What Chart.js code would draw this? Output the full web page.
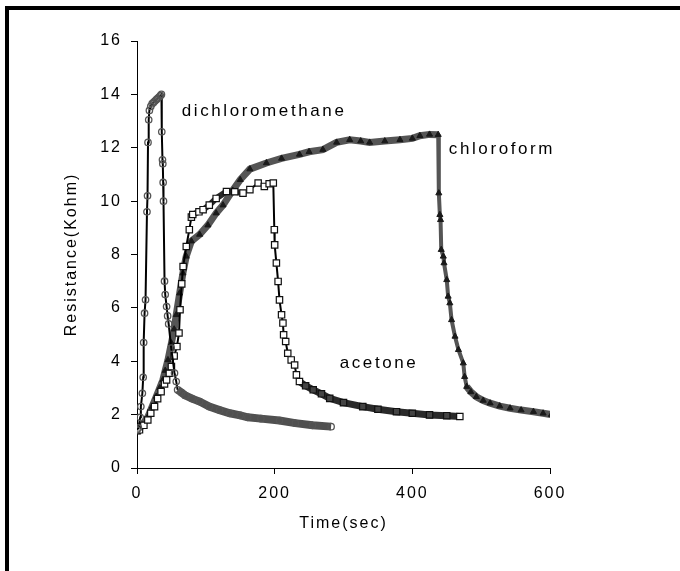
<!DOCTYPE html>
<html lang="en">
<head>
  <meta charset="UTF-8">
  <title>Resistance vs time</title>
  <script src="https://cdn.jsdelivr.net/npm/chart.js"></script>
  <style>
    html, body {
      margin: 0;
      padding: 0;
      background: #fff;
    }
    .wrap {
      width: 680px;
      height: 571px;
    }
  </style>
</head>
<body>
  <div class="wrap"><canvas id="resChart" width="680" height="571"></canvas></div>

  <script>
    // dichloromethane
    const dcmTime = [0, 2, 4.7, 5.6, 7.8, 9, 9.7, 11, 12.4, 14.5, 15.3, 16, 17, 18, 20, 22, 24, 26, 28, 30, 32, 34, 35.5,
      36, 37, 37.5, 38, 38.5, 40, 41, 43, 44.5, 46, 49.7, 54.5, 57, 59,
      65, 70, 80, 91, 105, 120, 135, 150, 161, 180, 207, 230, 255, 282];
    const dcmRes = [1.43, 1.5, 1.9, 2.3, 2.8, 3.4, 4.7, 5.8, 6.3, 9.6, 10.2, 12.2, 13.05, 13.4, 13.55, 13.65, 13.7, 13.75, 13.8, 13.85, 13.9, 13.95, 14.0,
      12.6, 11.55, 11.4, 10.7, 10.0, 7.0, 6.5, 6.05, 5.7, 5.4, 4.49, 3.56, 3.24, 2.93,
      2.82, 2.72, 2.6, 2.49, 2.3, 2.17, 2.05, 1.97, 1.9, 1.85, 1.78, 1.68, 1.6, 1.55];

    // acetone
    const acetoneTime = [0, 3.6, 10, 15.7, 20, 25.5, 30, 35, 40, 43, 47, 50, 54, 58, 61, 62.5, 65, 67, 71.6, 76, 79, 81, 90, 96, 105, 115, 130, 142, 154, 164, 176, 185, 192, 198,
      199.5, 200, 202.5, 205, 207, 210, 212, 213, 216, 219, 224, 229, 231.6, 236,
      245, 256, 268, 280, 300, 328, 350, 377, 400, 425, 450, 469];
    const acetoneRes = [1.4, 1.43, 1.6, 1.8, 2.05, 2.3, 2.6, 2.86, 3.15, 3.3, 3.55, 3.8, 4.2, 4.55, 5.06, 5.93, 6.9, 7.55, 8.3, 8.93, 9.4, 9.5, 9.6, 9.68, 9.85, 10.1, 10.36, 10.35, 10.3, 10.43, 10.68, 10.55, 10.65, 10.68,
      8.93, 8.36, 7.68, 6.99, 6.3, 5.74, 5.43, 4.99, 4.74, 4.3, 4.05, 3.86, 3.49, 3.24,
      3.08, 2.93, 2.78, 2.61, 2.45, 2.3, 2.2, 2.11, 2.05, 1.99, 1.96, 1.93];

    // chloroform
    const chloroTime = [0, 1, 8, 16, 22, 28, 33, 37.6, 41, 45, 50, 54, 57, 62, 66.7, 71.5, 79, 91, 103, 115, 125, 139, 150, 164, 188, 210, 236, 250, 270, 290, 309, 325, 338, 360, 382, 400, 411, 425, 437.6,
      438.5, 440, 441, 442, 445, 446, 450, 452, 454.5, 457, 462, 467, 474, 476, 479,
      485, 493, 503, 513, 527, 542, 558, 576, 590, 602];
    const chloroRes = [1.4, 1.43, 1.6, 1.93, 2.3, 2.68, 3.0, 3.3, 3.65, 4.05, 4.68, 5.2, 5.74, 6.55, 7.3, 7.93, 8.5, 8.75, 9.1, 9.55, 9.85, 10.4, 10.8, 11.2, 11.43, 11.6, 11.75, 11.85, 11.93, 12.2, 12.3, 12.25, 12.2, 12.25, 12.3, 12.35, 12.45, 12.5, 12.49,
      10.3, 9.49, 9.3, 8.18, 7.93, 7.68, 7.05, 6.43, 6.18, 5.55, 4.93, 4.43, 3.93, 3.42, 3.05,
      2.85, 2.67, 2.53, 2.43, 2.32, 2.24, 2.17, 2.11, 2.05, 2.0];

    const xTicks = [0, 200, 400, 600];
    const yTicks = [0, 2, 4, 6, 8, 10, 12, 14, 16];

    // in-plot labels: text, time, resistance (left edge, vertical middle)
    const curveNames = ['dichloromethane', 'chloroform', 'acetone'];
    const nameTime = [65, 453, 294.5];
    const nameRes = [13.35, 11.93, 3.94];

    const pts = (xs, ys) => xs.map((x, i) => ({ x: x, y: ys[i] }));

    const FONT = '"Liberation Sans", Arial, sans-serif';

    const framePlugin = {
      id: 'frame',
      beforeDraw(chart) {
        const ctx = chart.ctx;
        ctx.letterSpacing = '2px';
        ctx.save();
        ctx.fillStyle = '#000';
        ctx.fillRect(5, 6, 675, 4);
        ctx.fillRect(5, 6, 4, 565);
        ctx.restore();
      },
      afterDatasetsDraw(chart) {
        const ctx = chart.ctx;
        const xs = chart.scales.x, ys = chart.scales.y;
        ctx.save();
        ctx.letterSpacing = '2.6px';
        ctx.font = '17px ' + FONT;
        ctx.fillStyle = '#000';
        ctx.textAlign = 'left';
        ctx.textBaseline = 'middle';
        curveNames.forEach((name, i) => {
          ctx.fillText(name, xs.getPixelForValue(nameTime[i]), ys.getPixelForValue(nameRes[i]));
        });
        ctx.restore();
      }
    };

    new Chart(document.getElementById('resChart'), {
      type: 'line',
      data: {
        datasets: [
          {
            label: 'dichloromethane',
            data: pts(dcmTime, dcmRes),
            borderColor: '#000',
            borderWidth: 2,
            pointStyle: 'circle',
            pointRadius: 3.2,
            pointBorderColor: '#555',
            pointBorderWidth: 1.3,
            pointBackgroundColor: 'rgba(255,255,255,0)',
            segment: {
              borderColor: c => c.p0.parsed.x >= 59 ? '#505050' : '#000',
              borderWidth: c => c.p0.parsed.x >= 59 ? 8 : 2
            },
            tension: 0
          },
          {
            label: 'acetone',
            data: pts(acetoneTime, acetoneRes),
            borderColor: '#000',
            borderWidth: 2,
            pointStyle: 'rect',
            pointRadius: 4.5,
            pointBorderColor: '#111',
            pointBorderWidth: 1.2,
            pointBackgroundColor: c => (c.raw && c.raw.x > 236 && c.dataIndex < acetoneTime.length - 1) ? '#444' : '#fff',
            segment: {
              borderColor: c => (c.p0.parsed.x >= 236 || (c.p0.parsed.x >= 79 && c.p0.parsed.x < 154)) ? '#2a2a2a' : '#000',
              borderWidth: c => c.p0.parsed.x >= 236 ? 7 : (c.p0.parsed.x >= 79 && c.p0.parsed.x < 154 ? 6 : 2)
            },
            tension: 0
          },
          {
            label: 'chloroform',
            data: pts(chloroTime, chloroRes),
            borderColor: '#555',
            borderWidth: 4,
            pointStyle: 'triangle',
            pointRadius: 3.5,
            pointBorderColor: '#1a1a1a',
            pointBorderWidth: 1,
            pointBackgroundColor: '#1a1a1a',
            segment: {
              borderWidth: c => (c.p0.parsed.x < 437 || c.p0.parsed.x >= 479) ? 7 : 4
            },
            tension: 0
          }
        ]
      },
      options: {
        responsive: false,
        animation: false,
        events: [],
        layout: {
          padding: { left: 0, top: 41, right: 130, bottom: 0 }
        },
        plugins: {
          legend: { display: false },
          tooltip: { enabled: false },
          title: { display: false }
        },
        scales: {
          x: {
            type: 'linear',
            min: 0,
            max: 600,
            afterFit: s => { s.height = 103; },
            afterBuildTicks: s => { s.ticks = xTicks.map(v => ({ value: v })); },
            border: { color: '#000', width: 1 },
            grid: { drawOnChartArea: false, drawTicks: true, tickLength: 6, color: '#000' },
            ticks: {
              color: '#000',
              padding: 10,
              maxRotation: 0,
              font: { family: FONT, size: 16 }
            },
            title: {
              display: true,
              text: 'Time(sec)',
              color: '#000',
              font: { family: FONT, size: 16 },
              padding: { top: 0, bottom: 38 }
            }
          },
          y: {
            type: 'linear',
            min: 0,
            max: 16,
            afterFit: s => { s.width = 137; },
            afterBuildTicks: s => { s.ticks = yTicks.map(v => ({ value: v })); },
            border: { color: '#000', width: 1 },
            grid: { drawOnChartArea: false, drawTicks: true, tickLength: 6, color: '#000' },
            ticks: {
              color: '#000',
              padding: 9,
              font: { family: FONT, size: 16 }
            },
            title: {
              display: true,
              text: 'Resistance(Kohm)',
              color: '#000',
              font: { family: FONT, size: 16 },
              padding: { top: 62, bottom: 0 }
            }
          }
        }
      },
      plugins: [framePlugin]
    });
  </script>
</body>
</html>
